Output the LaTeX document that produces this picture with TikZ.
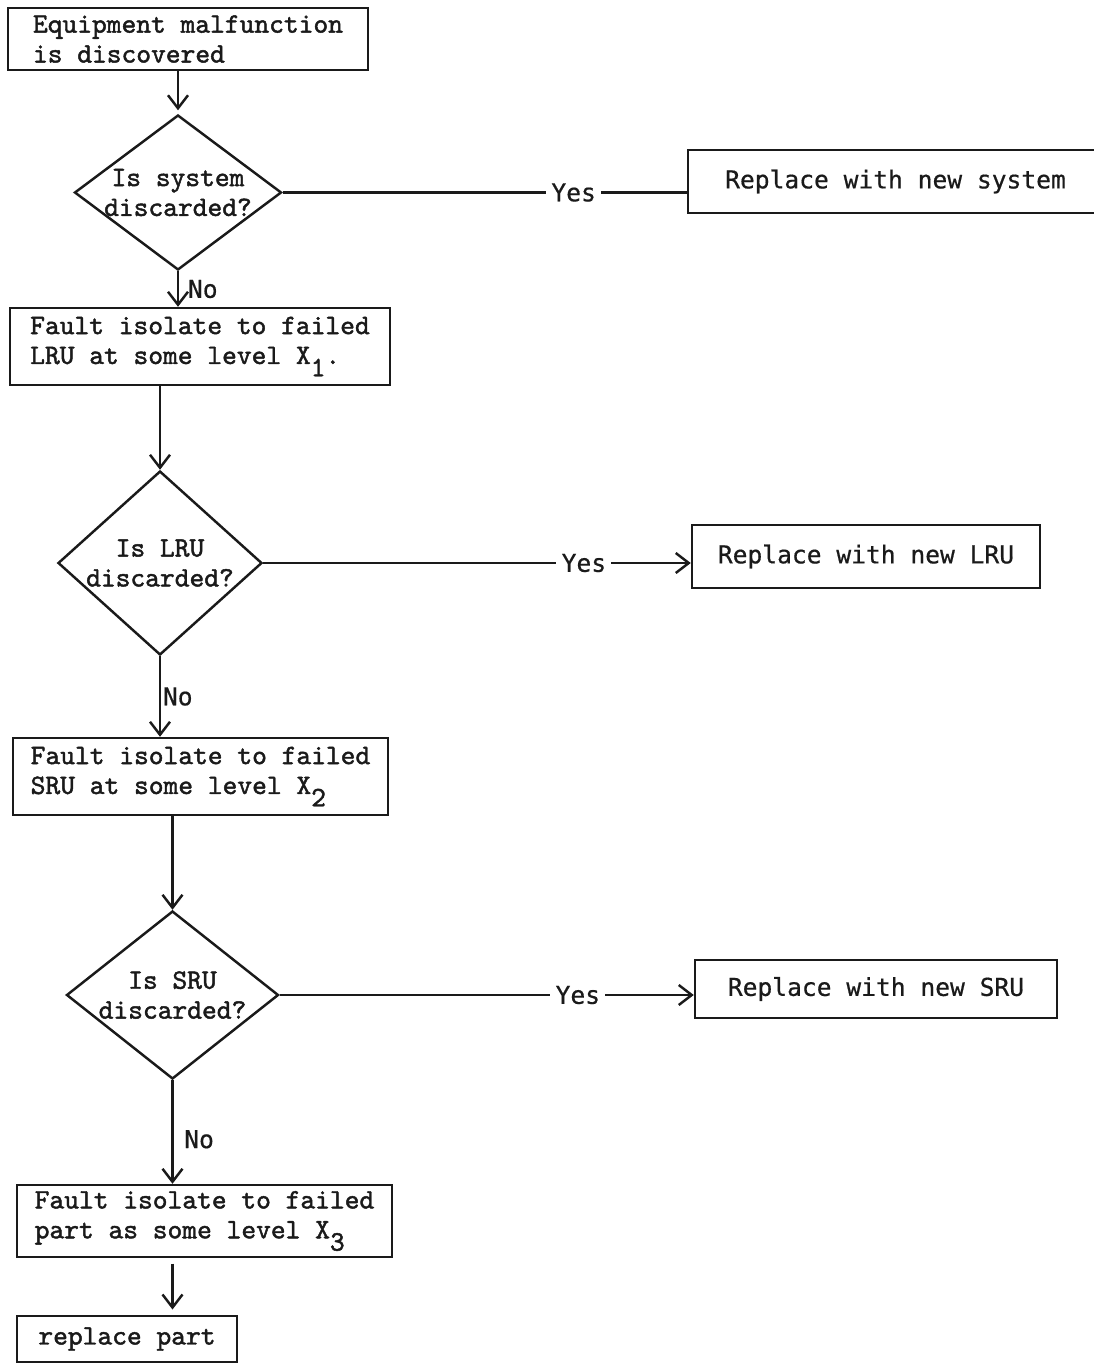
\documentclass[tikz,border=0pt]{standalone}
\usepackage{fontspec}
\usepackage{tikz}
\usetikzlibrary{
  positioning, arrows.meta, shapes.geometric
}
\newfontfamily\typewr{lmmono10-regular.otf}[FakeBold=1.6]
\newfontfamily\gothicmono{DejaVu Sans Mono}[FakeBold=0.6]
\definecolor{ink}{HTML}{1A1A1A}
\newcommand{\sublevel}[1]{\raisebox{-7pt}{#1}}

\begin{document}
\begin{tikzpicture}[
      every node/.style={text=ink},
      stepbox/.style={draw=ink, line width=1.4pt, align=left, inner sep=0pt,
                      font=\typewr\fontsize{16}{17}\selectfont},
      decision/.style={draw=ink, line width=1.4pt, diamond, inner sep=-4mm,
                       align=center, font=\typewr\fontsize{16}{17}\selectfont},
      outcome/.style={draw=ink, line width=1.4pt, inner sep=0pt,
                      font=\gothicmono\fontsize{14}{17}\selectfont},
      answer/.style={font=\gothicmono\fontsize{14}{17}\selectfont,
                     fill=white, inner sep=3pt},
      flow/.style={draw=ink, line width=1.4pt},
      >={Straight Barb[length=2.6mm, width=4mm]},
    ]
    \useasboundingbox (0, 0) rectangle (21.88, -27.36);

    \node[stepbox, minimum width=7.2cm, minimum height=1.24cm] (malf) at (3.76, -0.78)
      {Equipment malfunction\\is discovered};
    \node[decision, minimum width=4.14cm, minimum height=3.1cm] (sysq) at (3.56, -3.85)
      {Is system\\discarded?};
    \node[outcome, minimum width=8.3cm, minimum height=1.26cm] (sysnew) at (17.91, -3.63)
      {Replace with new system};

    \node[stepbox, minimum width=7.6cm, minimum height=1.54cm] (lrufault) at (4.00, -6.93)
      {Fault isolate to failed\\LRU at some level X\sublevel{1}.};
    \node[decision, minimum width=4.08cm, minimum height=3.68cm] (lruq) at (3.20, -11.26)
      {Is LRU\\discarded?};
    \node[outcome, minimum width=6.96cm, minimum height=1.26cm] (lrunew) at (17.32, -11.13)
      {Replace with new LRU};

    \node[stepbox, minimum width=7.5cm, minimum height=1.54cm] (srufault) at (4.01, -15.53)
      {Fault isolate to failed\\SRU at some level X\sublevel{2}};
    \node[decision, minimum width=4.24cm, minimum height=3.36cm] (sruq) at (3.45, -19.90)
      {Is SRU\\discarded?};
    \node[outcome, minimum width=7.24cm, minimum height=1.16cm] (srunew) at (17.52, -19.78)
      {Replace with new SRU};

    \node[stepbox, minimum width=7.5cm, minimum height=1.44cm] (partfault) at (4.09, -24.42)
      {Fault isolate to failed\\part as some level X\sublevel{3}};
    \node[stepbox, minimum width=4.4cm, minimum height=0.92cm] (replpart) at (2.54, -26.78)
      {replace part};

    \draw[flow, ->, shorten >=2pt] (sysq.north |- malf.south) -- (sysq.north);
    \draw[flow, ->] (sysq.south) -- (sysq.south |- lrufault.north)
      node[answer, midway, right, fill=none, inner sep=5pt] {No};
    \draw[flow] (sysq.east) -- (sysq.east -| sysnew.west)
      node[answer, pos=0.72] {Yes};

    \draw[flow, ->] (lruq.north |- lrufault.south) -- (lruq.north);
    \draw[flow, ->] (lruq.south) -- (lruq.south |- srufault.north)
      node[answer, midway, right, fill=none, inner sep=1pt] {No};
    \draw[flow, ->] (lruq.east) -- (lruq.east -| lrunew.west)
      node[answer, pos=0.75] {Yes};

    \draw[flow, ->] (sruq.north |- srufault.south) -- (sruq.north);
    \draw[flow, ->] (sruq.south) -- (sruq.south |- partfault.north)
      node[answer, pos=0.57, right, fill=none, inner sep=6pt] {No};
    \draw[flow, ->] (sruq.east) -- (sruq.east -| srunew.west)
      node[answer, pos=0.72] {Yes};

    \draw[flow, ->, shorten <=3pt, shorten >=3pt]
      (sruq.south |- partfault.south) -- (sruq.south |- replpart.north);
  \end{tikzpicture}
\end{document}
